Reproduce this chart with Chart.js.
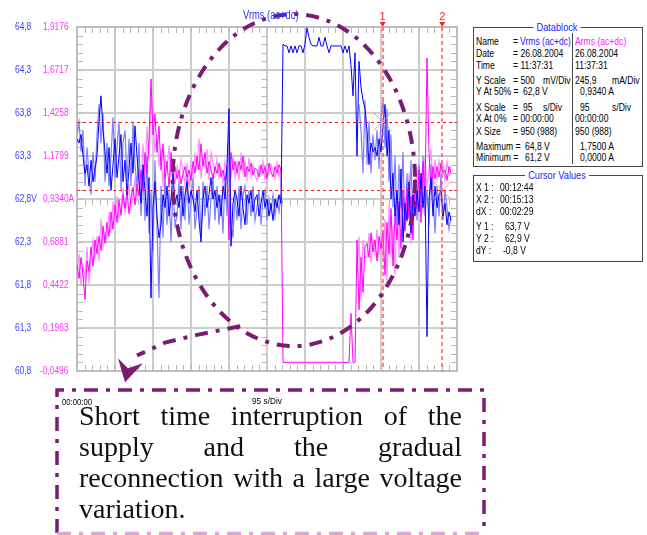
<!DOCTYPE html>
<html><head><meta charset="utf-8">
<script src="https://cdn.jsdelivr.net/npm/chart.js@4.4.1/dist/chart.umd.min.js"></script>
<style>
html,body{margin:0;padding:0;background:#fff;width:647px;height:535px;overflow:hidden;}
#wrap{position:relative;width:647px;height:535px;}
#c{position:absolute;left:0;top:0;}
.t{position:absolute;white-space:nowrap;font-family:'Liberation Sans',Arial,sans-serif;font-size:11px;line-height:12px;color:#000;transform:scaleX(0.78);transform-origin:0 0;}
.box{position:absolute;border:1px solid #444;background:#fff;}
.bt{position:absolute;white-space:nowrap;font-family:'Liberation Sans',Arial,sans-serif;font-size:11.5px;line-height:12px;color:#1a1aff;background:#fff;padding:0 4px;transform:translateX(-50%) scaleX(0.8);}
#txt{position:absolute;left:79px;top:400px;width:383px;font-family:'Liberation Serif','Times New Roman',serif;font-size:28px;line-height:31px;text-align:justify;color:#111;}
</style></head><body>
<div id="wrap">
<canvas id="c" width="647" height="535"></canvas>
<div class="t" style="left:243px;top:9px;color:#3030ff;font-size:12px">Vrms (ac+dc)</div>

<div class="box" style="left:473px;top:27px;width:168px;height:138px"></div>
<div style="position:absolute;left:572px;top:33px;width:1px;height:131px;background:#444"></div>
<div class="bt" style="left:557px;top:21px">Datablock</div>
<span class="t" style="left:476px;top:35px">Name</span><span class="t" style="left:513px;top:35px">=</span><span class="t" style="left:520px;top:35px;color:#1a1aff">Vrms (ac+dc)</span><span class="t" style="left:575px;top:35px;color:#ff20ff">Arms (ac+dc)</span>
<span class="t" style="left:476px;top:47px">Date</span><span class="t" style="left:513px;top:47px">= 26.08.2004</span><span class="t" style="left:575px;top:47px">26.08.2004</span>
<span class="t" style="left:476px;top:59px">Time</span><span class="t" style="left:513px;top:59px">= 11:37:31</span><span class="t" style="left:575px;top:59px">11:37:31</span>
<span class="t" style="left:476px;top:74px">Y Scale</span><span class="t" style="left:513px;top:74px">= 500</span><span class="t" style="left:543px;top:74px">mV/Div</span><span class="t" style="left:575px;top:74px">245,9</span><span class="t" style="left:612px;top:74px">mA/Div</span>
<span class="t" style="left:476px;top:85px">Y At 50% =</span><span class="t" style="left:523px;top:85px">62,8 V</span><span class="t" style="left:580px;top:85px">0,9340 A</span>
<span class="t" style="left:476px;top:101px">X Scale</span><span class="t" style="left:513px;top:101px">=</span><span class="t" style="left:523px;top:101px">95</span><span class="t" style="left:543px;top:101px">s/Div</span><span class="t" style="left:580px;top:101px">95</span><span class="t" style="left:612px;top:101px">s/Div</span>
<span class="t" style="left:476px;top:112px">X At 0%</span><span class="t" style="left:513px;top:112px">= 00:00:00</span><span class="t" style="left:575px;top:112px">00:00:00</span>
<span class="t" style="left:476px;top:125px">X Size</span><span class="t" style="left:513px;top:125px">= 950 (988)</span><span class="t" style="left:575px;top:125px">950 (988)</span>
<span class="t" style="left:476px;top:140px">Maximum =</span><span class="t" style="left:525px;top:140px">64,8 V</span><span class="t" style="left:580px;top:140px">1,7500 A</span>
<span class="t" style="left:476px;top:151px">Minimum =</span><span class="t" style="left:525px;top:151px">61,2 V</span><span class="t" style="left:580px;top:151px">0,0000 A</span>

<div class="box" style="left:473px;top:175px;width:168px;height:85px"></div>
<div class="bt" style="left:557px;top:169px">Cursor Values</div>
<span class="t" style="left:476px;top:181px">X 1 :</span><span class="t" style="left:500px;top:181px">00:12:44</span>
<span class="t" style="left:476px;top:193px">X 2 :</span><span class="t" style="left:500px;top:193px">00:15:13</span>
<span class="t" style="left:476px;top:205px">dX :</span><span class="t" style="left:500px;top:205px">00:02:29</span>
<span class="t" style="left:476px;top:220px">Y 1 :</span><span class="t" style="left:505px;top:220px">63,7 V</span>
<span class="t" style="left:476px;top:232px">Y 2 :</span><span class="t" style="left:505px;top:232px">62,9 V</span>
<span class="t" style="left:476px;top:244px">dY :</span><span class="t" style="left:503px;top:244px">-0,8 V</span>

<span class="t" style="left:62px;top:397px;font-size:9px;line-height:10px;transform:scaleX(0.86)">00:00:00</span>
<span class="t" style="left:252px;top:396px;font-size:9px;line-height:10px;transform:scaleX(0.92)">95 s/Div</span>
<div id="txt">Short time interruption of the supply and the gradual reconnection with a large voltage variation.</div>
</div>
<script>
// ---- data (sample step 5 s) ----
const STEP_S = 5;
const vrmsMain = [63.5,63.45,63.55,63.3,63.1,63.2,62.95,63.25,63.0,63.15,
63.3,63.7,64.0,63.6,63.35,63.1,63.4,62.9,63.2,63.5,
63.05,63.3,63.55,63.0,63.25,62.85,63.15,63.45,63.1,63.65,
63.3,63.0,62.75,63.2,62.9,62.6,63.05,61.65,62.7,63.0,
62.6,62.35,62.5,62.85,62.7,62.95,62.6,62.8,63.1,62.75,
62.85,62.7,62.95,62.6,62.85,63.0,62.75,62.9,62.8,62.65,
62.9,62.55,62.3,62.8,62.95,62.7,62.85,63.05,62.8,62.9,
62.7,62.85,62.6,62.95,62.8,63.2,63.85,62.25,62.75,62.9,
62.8,62.6,62.95,62.7,62.5,62.85,62.75,62.9,62.65,62.8,
62.85,62.6,62.75,62.9,62.7,62.8,62.6,62.75,62.55,62.8,
62.7,62.85,62.75,
64.6,64.58,64.58,64.5,64.58,64.5,64.58,64.5,64.58,64.58,
64.5,64.6,64.79,64.68,64.6,64.58,64.58,64.58,64.68,64.58,
64.58,64.68,64.58,64.5,64.58,64.58,64.58,64.58,64.58,64.58,
64.5,64.58,64.5,64.58,
64.35,64.0,64.5,63.3,64.4,64.1,63.95,63.85,
63.6,63.2,63.45,63.35,63.4,63.3,63.5,63.35,
63.65,63.9,63.3,63.6,62.8,63.1,62.6,
62.9,62.5,63.15,62.3,62.75,62.55,63.0,62.4,62.85,62.6,
62.9,62.65,63.1,62.7,62.95,61.2,62.8,63.05,62.6,62.95,
62.7,62.85,62.9,62.6,62.75,62.5,62.65,62.55];
const vrmsEnv = [63.55,63.7,63.35,63.6,62.95,63.4,63.1,62.85,63.35,63.0,
63.55,63.9,63.45,63.8,63.0,63.45,62.95,63.3,63.75,63.05,
63.4,63.7,62.9,63.45,63.6,63.0,63.5,62.95,63.7,63.2,
62.95,63.45,62.6,63.1,62.55,63.3,62.4,62.9,62.2,63.25,
62.45,61.65,62.95,62.35,63.1,62.5,62.9,62.3,62.95,62.5,
62.6,63.0,62.45,62.95,62.55,63.1,62.5,62.8,63.05,62.45,
62.7,62.95,62.35,63.0,62.6,62.95,62.45,62.8,63.1,62.55,
62.95,62.5,62.85,62.4,63.05,62.6,63.6,62.5,62.35,62.85,
62.55,62.95,62.45,62.85,62.95,62.5,62.9,62.6,62.95,62.55,
62.7,62.9,62.5,62.8,62.9,62.55,62.8,62.65,62.85,62.6,
62.8,62.65,62.85,
null,null,null,null,null,null,null,null,null,null,
null,null,null,null,null,null,null,null,null,null,
null,null,null,null,null,null,null,null,null,null,
null,null,null,null,null,null,null,null,
63.9,63.6,63.1,63.95,
63.2,63.7,63.1,63.55,63.25,63.6,63.15,63.75,
63.95,63.4,63.85,63.0,63.55,62.7,63.3,
62.5,63.2,62.7,63.35,62.45,63.1,62.6,63.25,62.5,63.0,
62.55,63.2,62.75,63.3,62.6,62.9,62.5,63.2,62.85,62.4,
62.95,62.6,63.1,62.55,62.9,62.7,62.45,62.6];
const armsMain = [0.56,0.48,0.6,0.5,0.36,0.58,0.52,0.66,0.55,0.7,
0.62,0.72,0.64,0.78,0.68,0.8,0.72,0.86,0.76,0.9,
0.8,0.93,0.84,0.96,0.88,0.98,0.85,0.94,1.0,0.9,
1.02,0.95,1.1,0.98,1.2,1.08,1.28,1.62,1.3,1.42,
1.2,1.35,1.1,1.25,1.05,1.15,1.0,1.2,1.08,1.12,
1.05,1.1,1.02,1.08,1.12,1.06,1.1,1.04,1.15,1.08,
1.18,1.1,1.25,1.12,1.2,1.08,1.15,1.1,1.05,1.12,
1.08,1.14,1.06,1.1,1.04,1.12,0.7,1.2,1.1,1.15,
1.08,1.15,1.1,1.18,1.06,1.12,1.09,1.14,1.07,1.11,
1.1,1.06,1.13,1.08,1.12,1.05,1.14,1.09,1.06,1.12,
1.08,1.13,1.1,
0,0,0,0,0,0,0,0,0,0,
0,0,0,0,0,0,0,0,0,0,
0,0,0,0,0,0,0,0,0,0,
0,0,0,0,
0.28,0,0,0.7,0.3,0.6,0.4,0.66,
0.68,0.6,0.74,0.63,0.7,0.58,0.72,0.65,
0.75,0.5,0.8,0.62,0.88,0.55,0.85,
0.7,0.92,0.65,0.98,0.75,1.0,0.82,0.95,0.7,1.05,
0.88,1.1,0.8,1.15,0.95,1.74,1.2,0.98,1.12,1.05,
1.12,1.06,1.14,1.08,1.1,1.04,1.12,1.08];
const armsEnv = [0.5,0.62,0.44,0.55,0.48,0.66,0.45,0.6,0.7,0.58,
0.72,0.58,0.82,0.66,0.74,0.7,0.86,0.74,0.92,0.8,
0.95,0.82,0.88,1.0,0.86,0.92,1.02,0.88,0.96,1.05,
0.92,1.12,1.0,1.25,1.05,1.35,1.15,1.5,1.4,1.2,
1.3,1.12,1.22,1.0,1.18,1.1,1.24,1.06,1.16,1.02,
1.12,1.04,1.16,1.1,1.02,1.14,1.0,1.12,1.06,1.2,
1.1,1.28,1.05,1.16,1.12,1.22,1.04,1.2,1.14,1.08,
1.16,1.06,1.12,1.02,1.15,1.08,1.3,1.05,1.18,1.06,
1.14,1.04,1.2,1.08,1.15,1.05,1.17,1.06,1.13,1.07,
1.04,1.12,1.07,1.15,1.05,1.11,1.07,1.13,1.1,1.05,
1.14,1.06,1.12,
null,null,null,null,null,null,null,null,null,null,
null,null,null,null,null,null,null,null,null,null,
null,null,null,null,null,null,null,null,null,null,
null,null,null,null,null,null,null,
0.5,0.72,0.35,0.7,0.6,
0.6,0.74,0.57,0.7,0.62,0.76,0.6,0.72,
0.6,0.82,0.45,0.9,0.6,0.78,0.5,
0.95,0.6,1.0,0.72,0.9,0.8,1.08,0.68,1.0,0.85,
1.12,0.92,1.05,0.85,1.18,1.0,1.1,1.22,1.0,1.16,
1.05,1.15,1.08,1.13,1.04,1.15,1.07,1.12];

const xGridSec = [0,95,190,285,380,475,570,665,760,855,950];
const voltTicks = [60.8,61.3,61.8,62.3,62.8,63.3,63.8,64.3,64.8];
const voltTickLabels = ['60,8','61,3','61,8','62,3','62,8V','63,3','63,8','64,3','64,8'];
const ampTicks = [-0.0496,0.1963,0.4422,0.6881,0.9340,1.1799,1.4258,1.6717,1.9176];
const ampTickLabels = ['-0,0496','0,1963','0,4422','0,6881','0,9340A','1,1799','1,4258','1,6717','1,9176'];
const cursorTimes = [764, 913];
const cursorVolts = [63.7, 62.9];
const cursorNames = ['1', '2'];
// annotation ellipse (time s, volts)
const ellipseCenter = {t: 542, v: 63.02};
const ellipseRadius = {t: 303, v: 1.93};
const arrowPath = [{t:408,v:61.32},{t:300,v:61.22},{t:220,v:61.13},{t:150,v:60.98},{t:120,v:60.67}];

const toXY = arr => arr.map((v, i) => ({x: i * STEP_S, y: v}));
const SANS = "'Liberation Sans',Arial,sans-serif";
const PURPLE = '#7a1c72';

const frameAndMinor = {
  id: 'frameAndMinor',
  beforeDatasetsDraw(chart) {
    const {ctx, chartArea: a, scales: {x, yV}} = chart;
    ctx.save();
    ctx.strokeStyle = '#b8b8b8'; ctx.lineWidth = 1;
    const yc = Math.round(yV.getPixelForValue(62.8)) + 0.5;
    const xc = Math.round(x.getPixelForValue(475)) + 0.5;
    ctx.beginPath();
    for (let k = 0; k <= 50; k++) {
      const px = Math.round(x.getPixelForValue(k * 19)) + 0.5;
      ctx.moveTo(px, a.top); ctx.lineTo(px, a.top + 6);
      ctx.moveTo(px, a.bottom - 6); ctx.lineTo(px, a.bottom);
      ctx.moveTo(px, yc); ctx.lineTo(px, yc + 6);
    }
    for (let k = 0; k <= 40; k++) {
      const py = Math.round(yV.getPixelForValue(60.8 + k * 0.1)) + 0.5;
      ctx.moveTo(a.left, py); ctx.lineTo(a.left + 6, py);
      ctx.moveTo(a.right - 6, py); ctx.lineTo(a.right, py);
      ctx.moveTo(xc - 6, py); ctx.lineTo(xc, py);
    }
    ctx.stroke();
    ctx.strokeStyle = '#bdbdbd'; ctx.lineWidth = 2;
    ctx.strokeRect(a.left, a.top, a.right - a.left, a.bottom - a.top);
    ctx.restore();
  }
};

// condensed tick labels for both value axes, positioned by the scales
const axisLabels = {
  id: 'axisLabels',
  afterDraw(chart) {
    const {ctx, scales: {yV, yA}} = chart;
    ctx.save();
    ctx.font = '11px ' + SANS; ctx.textAlign = 'left'; ctx.textBaseline = 'middle';
    const put = (scale, ticks, labels, color, dx) => {
      ctx.fillStyle = color;
      ticks.forEach((v, i) => {
        const py = scale.getPixelForValue(v);
        const lab = labels[i];
        const shift = lab.charAt(0) === '-' ? -3 : 0;
        ctx.save(); ctx.translate(scale.left + dx + shift, py); ctx.scale(0.76, 1);
        ctx.fillText(lab, 0, 0); ctx.restore();
      });
    };
    put(yV, voltTicks, voltTickLabels, '#3c3cff', 2);
    put(yA, ampTicks, ampTickLabels, '#ff30ff', 0);
    ctx.restore();
  }
};

const cursors = {
  id: 'cursors',
  afterDatasetsDraw(chart) {
    const {ctx, chartArea: a, scales: {x, yV}} = chart;
    ctx.save();
    ctx.strokeStyle = '#ff1a1a'; ctx.lineWidth = 1; ctx.setLineDash([3, 3]);
    cursorVolts.forEach(v => {
      const py = Math.round(yV.getPixelForValue(v)) + 0.5;
      ctx.beginPath(); ctx.moveTo(a.left, py); ctx.lineTo(a.right, py); ctx.stroke();
    });
    ctx.strokeStyle = '#ff5a5a'; ctx.lineWidth = 1.5; ctx.setLineDash([4, 3]);
    cursorTimes.forEach(t => {
      const px = Math.round(x.getPixelForValue(t));
      ctx.beginPath(); ctx.moveTo(px, a.top); ctx.lineTo(px, a.bottom); ctx.stroke();
    });
    ctx.setLineDash([]);
    ctx.strokeStyle = '#ff8a8a'; ctx.lineWidth = 1;
    cursorTimes.forEach((t, k) => {
      const px = x.getPixelForValue(t), py = yV.getPixelForValue(cursorVolts[k]);
      ctx.beginPath();
      ctx.moveTo(px - 9, py - 9); ctx.lineTo(px + 9, py + 9);
      ctx.moveTo(px + 9, py - 9); ctx.lineTo(px - 9, py + 9);
      ctx.stroke();
      ctx.fillStyle = '#ff2020';
      ctx.beginPath(); ctx.moveTo(px - 3, a.top - 5); ctx.lineTo(px + 3, a.top - 5); ctx.lineTo(px, a.top); ctx.closePath(); ctx.fill();
      ctx.font = '11px ' + SANS; ctx.textAlign = 'center'; ctx.textBaseline = 'middle';
      ctx.fillText(cursorNames[k], px, a.top - 10);
    });
    ctx.restore();
  }
};

const annotations = {
  id: 'annotations',
  afterDraw(chart) {
    const {ctx, scales: {x, yV}} = chart;
    ctx.save();
    ctx.strokeStyle = PURPLE; ctx.fillStyle = PURPLE; ctx.lineWidth = 4;
    ctx.setLineDash([13, 8, 4, 8]);
    const cx = x.getPixelForValue(ellipseCenter.t), cy = yV.getPixelForValue(ellipseCenter.v);
    const rx = Math.abs(x.getPixelForValue(ellipseCenter.t + ellipseRadius.t) - cx);
    const ry = Math.abs(yV.getPixelForValue(ellipseCenter.v + ellipseRadius.v) - cy);
    ctx.beginPath(); ctx.ellipse(cx, cy, rx, ry, 0, 0, Math.PI * 2); ctx.stroke();
    const pts = arrowPath.map(p => ({x: x.getPixelForValue(p.t), y: yV.getPixelForValue(p.v)}));
    ctx.beginPath(); ctx.moveTo(pts[0].x, pts[0].y);
    for (let i = 1; i < pts.length - 1; i++) ctx.lineTo(pts[i].x, pts[i].y);
    ctx.stroke();
    ctx.setLineDash([]);
    const tip = pts[pts.length - 1];
    ctx.beginPath();
    ctx.moveTo(tip.x, tip.y);
    ctx.lineTo(tip.x - 7, tip.y - 24);
    ctx.lineTo(tip.x + 3, tip.y - 14);
    ctx.lineTo(tip.x + 18, tip.y - 19);
    ctx.closePath(); ctx.fill();
    // text frame
    ctx.lineWidth = 3.5; ctx.setLineDash([14, 8, 4, 8]);
    ctx.beginPath(); ctx.moveTo(57, 533); ctx.lineTo(57, 390); ctx.lineTo(484, 390); ctx.lineTo(484, 533); ctx.stroke();
    ctx.strokeStyle = '#d9a6d6';
    ctx.beginPath(); ctx.moveTo(57, 533.5); ctx.lineTo(484, 533.5); ctx.stroke();
    ctx.restore();
  }
};

new Chart(document.getElementById('c'), {
  type: 'line',
  data: {
    datasets: [
      {data: toXY(vrmsMain), borderColor: '#0000ff', yAxisID: 'yV', borderWidth: 1},
      {data: toXY(armsMain), borderColor: '#ff00ff', yAxisID: 'yA', borderWidth: 1},
      {data: toXY(vrmsEnv), borderColor: '#7f7fff', yAxisID: 'yV', borderWidth: 1.2, spanGaps: false},
      {data: toXY(armsEnv), borderColor: '#ff8cff', yAxisID: 'yA', borderWidth: 1.2, spanGaps: false}
    ]
  },
  options: {
    responsive: false, animation: false, devicePixelRatio: 1,
    layout: {padding: {left: 13, right: 190, top: 27, bottom: 164}},
    plugins: {legend: {display: false}, tooltip: {enabled: false}},
    elements: {point: {radius: 0}, line: {tension: 0}},
    scales: {
      x: {
        type: 'linear', min: 0, max: 950,
        afterBuildTicks: s => { s.ticks = xGridSec.map(v => ({value: v})); },
        ticks: {display: false},
        grid: {color: '#cdcdcd', lineWidth: 2, drawTicks: false},
        border: {display: false},
        afterFit: s => { s.height = 0; }
      },
      yV: {
        position: 'left', weight: 2, min: 60.8, max: 64.8,
        afterBuildTicks: s => { s.ticks = voltTicks.map(v => ({value: v})); },
        ticks: {display: false},
        grid: {display: false}, border: {display: false},
        afterFit: s => { s.width = 30; }
      },
      yA: {
        position: 'left', weight: 1, min: -0.0496, max: 1.9176,
        afterBuildTicks: s => { s.ticks = ampTicks.map(v => ({value: v})); },
        ticks: {display: false},
        grid: {color: '#cdcdcd', lineWidth: 2, drawTicks: false}, border: {display: false},
        afterFit: s => { s.width = 34; }
      }
    }
  },
  plugins: [frameAndMinor, cursors, annotations, axisLabels]
});
</script>
</body></html>
